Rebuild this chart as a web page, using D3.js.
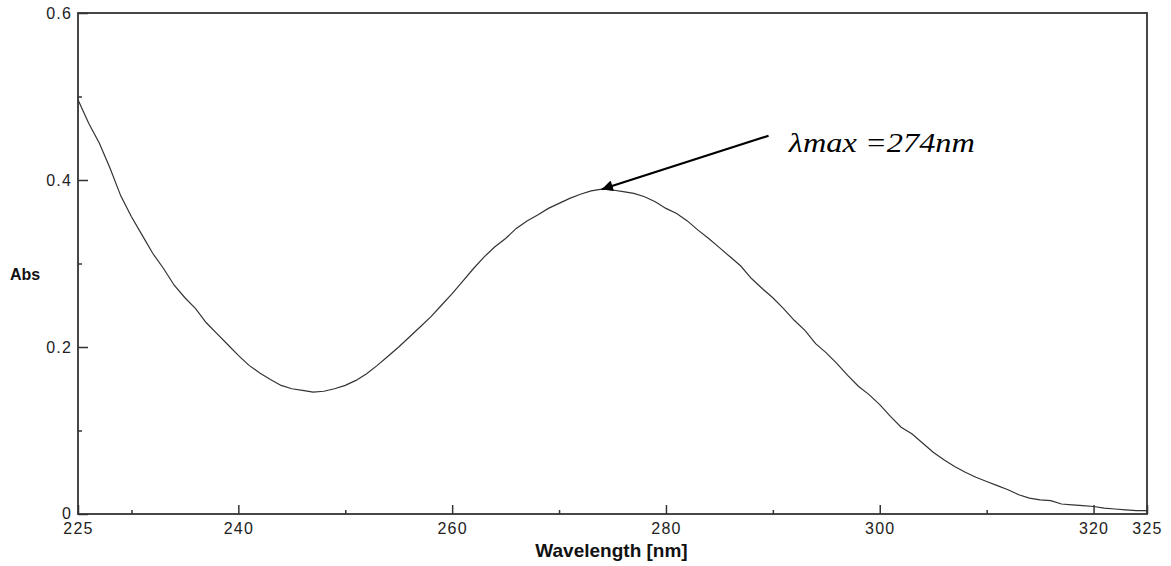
<!DOCTYPE html>
<html>
<head>
  <meta charset="utf-8">
  <script src="https://d3js.org/d3.v7.min.js"></script>
  <style>
    body { margin: 0; background: #fff; }
    .tick text { font-family: "Liberation Sans", Arial, sans-serif; font-size: 16px; fill: #222; letter-spacing: 1.2px; }
    .tick line { stroke: #333; stroke-width: 1.5px; }
    .frame { fill: none; stroke: #333; stroke-width: 1.8px; }
    .curve { fill: none; stroke: #333; stroke-width: 1.2px; }
    .axis-title { font-family: "Liberation Sans", Arial, sans-serif; font-weight: bold; fill: #111; }
    .note { font-family: "Liberation Serif", "Times New Roman", serif; font-style: italic; fill: #000; }
  </style>
</head>
<body>
  <svg width="1171" height="566"></svg>
  <script>
    // spectrum, 1 nm steps
    var wavelength = d3.range(225, 326);
    var absorbance = [
      0.496, 0.468, 0.444, 0.414, 0.381, 0.356, 0.334, 0.312, 0.294, 0.274,
      0.259, 0.246, 0.229, 0.216, 0.203, 0.190, 0.178, 0.169, 0.161, 0.154,
      0.150, 0.148, 0.146, 0.147, 0.150, 0.154, 0.160, 0.168, 0.178, 0.189,
      0.200, 0.212, 0.224, 0.236, 0.250, 0.264, 0.279, 0.294, 0.308, 0.320,
      0.330, 0.342, 0.351, 0.358, 0.366, 0.372, 0.378, 0.383, 0.387, 0.389,
      0.388, 0.386, 0.384, 0.380, 0.374, 0.366, 0.360, 0.351, 0.340, 0.330,
      0.319, 0.308, 0.297, 0.282, 0.270, 0.259, 0.246, 0.232, 0.220, 0.204,
      0.193, 0.180, 0.166, 0.153, 0.143, 0.131, 0.117, 0.104, 0.096, 0.085,
      0.074, 0.065, 0.057, 0.050, 0.044, 0.039, 0.034, 0.029, 0.023, 0.019,
      0.017, 0.016, 0.012, 0.011, 0.010, 0.009, 0.007, 0.006, 0.005, 0.004,
      0.004
    ];

    var xMajor = [225, 240, 260, 280, 300, 320, 325];
    var xMinor = [230, 250, 270, 290, 310];
    var yMajor = [0, 0.2, 0.4, 0.6];
    var yMinor = [0.1, 0.3, 0.5];

    var peakLabel = "\u03bbmax =274nm";
    var peakPoint = [274, 0.389];
    var arrowStart = [289.6, 0.453];
    var labelPos = [291.5, 0.433];

    var svg = d3.select("svg"),
      margin = {top: 13, right: 24, bottom: 52, left: 78},
      width = +svg.attr("width") - margin.left - margin.right,
      height = +svg.attr("height") - margin.top - margin.bottom;

    var x = d3.scaleLinear().domain([225, 325]).range([0, width]),
      y = d3.scaleLinear().domain([0, 0.6]).range([height, 0]);

    var data = wavelength.map(function(w, i) {
      return {wl: w, abs: absorbance[i]};
    });

    var g = svg.append("g")
      .attr("transform", "translate(" + margin.left + "," + margin.top + ")");

    svg.append("defs").append("marker")
      .attr("id", "head")
      .attr("viewBox", "0 0 10 10")
      .attr("refX", 10).attr("refY", 5)
      .attr("markerWidth", 7).attr("markerHeight", 5)
      .attr("markerUnits", "strokeWidth")
      .attr("orient", "auto")
      .append("path")
      .attr("d", "M0,0L10,5L0,10z")
      .attr("fill", "#000");

    // x axis, ticks inward
    var xAxis = g.append("g")
      .attr("transform", "translate(0," + height + ")")
      .call(d3.axisBottom(x).tickValues(xMajor).tickSize(-9).tickSizeOuter(0).tickPadding(9).tickFormat(d3.format("d")));
    xAxis.select(".domain").remove();

    var xAxisMinor = g.append("g")
      .attr("transform", "translate(0," + height + ")")
      .call(d3.axisBottom(x).tickValues(xMinor).tickSize(-4).tickSizeOuter(0).tickFormat(""));
    xAxisMinor.select(".domain").remove();

    var yAxis = g.append("g")
      .call(d3.axisLeft(y).tickValues(yMajor).tickSize(-10).tickSizeOuter(0).tickPadding(6)
        .tickFormat(function(d) { return d === 0 ? "0" : d3.format(".1f")(d); }));
    yAxis.select(".domain").remove();
    yAxis.selectAll(".tick").filter(function(d) { return d === 0; })
      .select("text").attr("dy", "0.3em");

    var yAxisMinor = g.append("g")
      .call(d3.axisLeft(y).tickValues(yMinor).tickSize(-4).tickSizeOuter(0).tickFormat(""));
    yAxisMinor.select(".domain").remove();

    g.append("rect")
      .attr("class", "frame")
      .attr("width", width)
      .attr("height", height);

    var line = d3.line()
      .x(function(d) { return x(d.wl); })
      .y(function(d) { return y(d.abs); });

    g.append("path")
      .datum(data)
      .attr("class", "curve")
      .attr("d", line);

    // annotation
    g.append("line")
      .attr("x1", x(arrowStart[0]))
      .attr("y1", y(arrowStart[1]))
      .attr("x2", x(peakPoint[0]))
      .attr("y2", y(peakPoint[1]))
      .attr("stroke", "#000")
      .attr("stroke-width", 2.2)
      .attr("marker-end", "url(#head)");

    g.append("text")
      .attr("class", "note")
      .attr("x", x(labelPos[0]))
      .attr("y", y(labelPos[1]))
      .attr("font-size", 28)
      .attr("textLength", 186)
      .attr("lengthAdjust", "spacingAndGlyphs")
      .text(peakLabel);

    svg.append("text")
      .attr("class", "axis-title")
      .attr("x", 10)
      .attr("y", 280)
      .attr("font-size", 16)
      .text("Abs");

    svg.append("text")
      .attr("class", "axis-title")
      .attr("x", margin.left + width / 2 - 1)
      .attr("y", 557)
      .attr("text-anchor", "middle")
      .attr("font-size", 19)
      .text("Wavelength [nm]");
  </script>
</body>
</html>
